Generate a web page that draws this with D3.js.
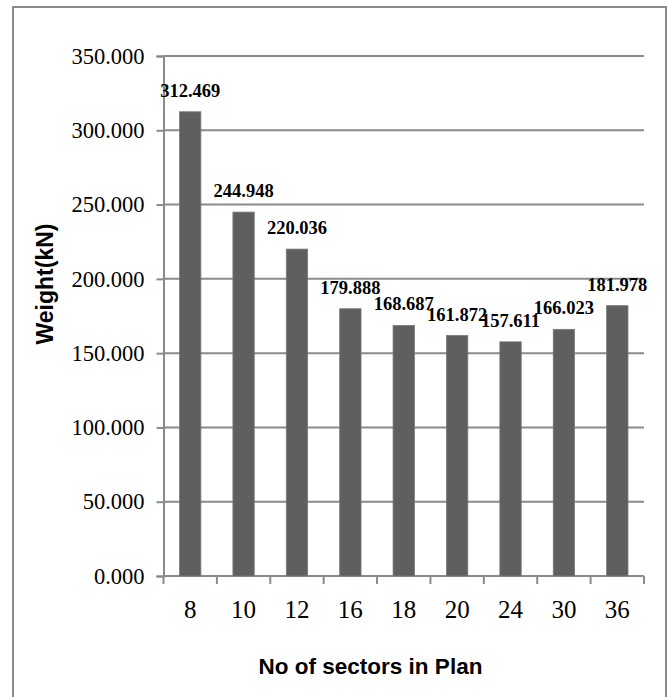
<!DOCTYPE html>
<html>
<head>
<meta charset="utf-8">
<script src="https://cdn.jsdelivr.net/npm/d3@7"></script>
<style>
  html, body { margin: 0; padding: 0; background: #ffffff; }
  svg { display: block; }
</style>
</head>
<body>
<svg id="chart" width="669" height="697"></svg>
<script>
// Structure weight for each number of sectors in plan
const categories = ["8", "10", "12", "16", "18", "20", "24", "30", "36"];
const weights = [312.469, 244.948, 220.036, 179.888, 168.687, 161.872, 157.611, 166.023, 181.978];
const yTicks = [0, 50, 100, 150, 200, 250, 300, 350];
const xTitle = "No of sectors in Plan";
const yTitle = "Weight(kN)";

const svg = d3.select("#chart");
const W = 669, H = 697;
const plot = { left: 163.5, right: 644, top: 56, bottom: 576 };
const lineColor = "#8a8a8a";
const serif = "'Liberation Serif', 'Times New Roman', serif";
const sans = "'Liberation Sans', Arial, sans-serif";

// Chart frame
svg.append("rect")
  .attr("x", 13).attr("y", 7)
  .attr("width", 653).attr("height", H + 10)
  .attr("fill", "#ffffff")
  .attr("stroke", lineColor).attr("stroke-width", 2);

const x = d3.scaleBand()
  .domain(categories)
  .range([plot.left, plot.right])
  .paddingInner(0.6)
  .paddingOuter(0.3);

const y = d3.scaleLinear()
  .domain([0, 350])
  .range([plot.bottom, plot.top]);

// Horizontal gridlines
svg.append("g")
  .selectAll("line")
  .data(yTicks)
  .join("line")
  .attr("x1", plot.left).attr("x2", plot.right)
  .attr("y1", d => y(d)).attr("y2", d => y(d))
  .attr("stroke", lineColor).attr("stroke-width", 2);

// Value axis
const yAxis = svg.append("g")
  .attr("transform", `translate(${plot.left},0)`)
  .call(d3.axisLeft(y).tickValues(yTicks).tickSize(7).tickPadding(12)
    .tickFormat(d3.format(".3f")));
yAxis.select(".domain").attr("stroke", lineColor).attr("stroke-width", 2);
yAxis.selectAll(".tick line").attr("stroke", lineColor).attr("stroke-width", 2);
yAxis.selectAll(".tick text")
  .attr("fill", "#000")
  .style("font-family", serif)
  .style("font-size", "22.5px");

// Category axis: ticks sit on the band boundaries
const step = x.step();
const boundaries = d3.range(categories.length + 1)
  .map(i => plot.left + i * (plot.right - plot.left) / categories.length);
svg.append("g")
  .selectAll("line")
  .data(boundaries)
  .join("line")
  .attr("x1", d => d).attr("x2", d => d)
  .attr("y1", plot.bottom).attr("y2", plot.bottom + 8)
  .attr("stroke", lineColor).attr("stroke-width", 2);

svg.append("g")
  .selectAll("text")
  .data(categories)
  .join("text")
  .attr("x", d => x(d) + x.bandwidth() / 2)
  .attr("y", 618)
  .attr("text-anchor", "middle")
  .style("font-family", serif)
  .style("font-size", "25px")
  .attr("fill", "#000")
  .text(d => d);

// Bars
svg.append("g")
  .selectAll("rect")
  .data(categories.map((c, i) => ({ c, v: weights[i] })))
  .join("rect")
  .attr("x", d => x(d.c))
  .attr("width", x.bandwidth())
  .attr("y", d => y(d.v))
  .attr("height", d => y(0) - y(d.v))
  .attr("fill", "#5f5f5f")
  .attr("stroke", "#7a7a7a")
  .attr("stroke-width", 0.8);

// Value labels
svg.append("g")
  .selectAll("text")
  .data(categories.map((c, i) => ({ c, v: weights[i] })))
  .join("text")
  .attr("x", d => x(d.c) + x.bandwidth() / 2)
  .attr("y", d => y(d.v) - 15)
  .attr("text-anchor", "middle")
  .style("font-family", serif)
  .style("font-weight", "bold")
  .style("font-size", "18.5px")
  .attr("fill", "#000")
  .text(d => d3.format(".3f")(d.v));

// Axis titles
svg.append("text")
  .attr("x", 370.5).attr("y", 674)
  .attr("text-anchor", "middle")
  .style("font-family", sans)
  .style("font-weight", "bold")
  .style("font-size", "22.5px")
  .attr("fill", "#000")
  .text(xTitle);

svg.append("text")
  .attr("transform", "translate(53,284) rotate(-90)")
  .attr("text-anchor", "middle")
  .style("font-family", sans)
  .style("font-weight", "bold")
  .style("font-size", "23px")
  .attr("fill", "#000")
  .text(yTitle);
</script>
</body>
</html>
